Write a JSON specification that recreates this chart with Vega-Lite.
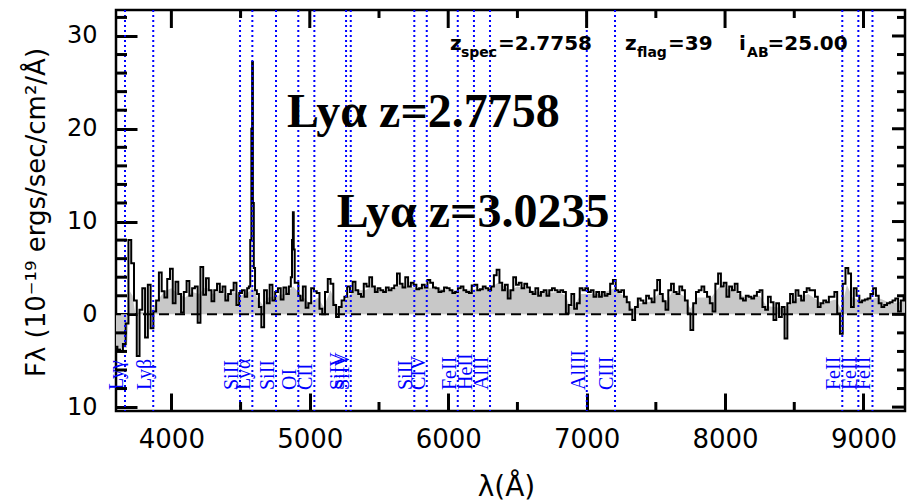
{
  "$schema": "https://vega.github.io/schema/vega-lite/v6.json",
  "width": 789,
  "height": 401,
  "autosize": {"type": "none"},
  "padding": {"left": 116, "top": 10, "right": 6, "bottom": 90},
  "background": "white",
  "config": {
    "view": {"stroke": "black", "strokeWidth": 2.5},
    "axis": {"grid": false, "domain": false, "ticks": true, "tickColor": "black", "tickWidth": 3, "labelColor": "black", "titleColor": "black"}
  },
  "datasets": {
    "spectrum": [
      {"lam":3600,"flux":-3.5},{"lam":3620,"flux":-3.8},{"lam":3640,"flux":-4.0},{"lam":3660,"flux":-3.2},{"lam":3680,"flux":-1.0},
      {"lam":3700,"flux":8.0},{"lam":3720,"flux":5.5},{"lam":3740,"flux":1.5},{"lam":3760,"flux":-4.5},{"lam":3780,"flux":0.5},
      {"lam":3800,"flux":2.8},{"lam":3820,"flux":-2.5},{"lam":3840,"flux":3.2},{"lam":3860,"flux":-1.5},{"lam":3880,"flux":0.3},
      {"lam":3900,"flux":1.5},{"lam":3920,"flux":4.5},{"lam":3940,"flux":2.5},{"lam":3960,"flux":1.8},{"lam":3980,"flux":3.8},
      {"lam":4000,"flux":4.9},{"lam":4020,"flux":1.2},{"lam":4040,"flux":3.5},{"lam":4060,"flux":2.2},{"lam":4080,"flux":0.2},
      {"lam":4100,"flux":2.4},{"lam":4120,"flux":3.6},{"lam":4140,"flux":2.0},{"lam":4160,"flux":2.8},{"lam":4180,"flux":3.0},
      {"lam":4200,"flux":-0.9},{"lam":4220,"flux":5.1},{"lam":4240,"flux":2.1},{"lam":4260,"flux":3.9},{"lam":4280,"flux":2.6},
      {"lam":4300,"flux":1.4},{"lam":4320,"flux":2.6},{"lam":4340,"flux":3.3},{"lam":4360,"flux":2.4},{"lam":4380,"flux":3.0},
      {"lam":4400,"flux":1.5},{"lam":4420,"flux":2.2},{"lam":4440,"flux":2.6},{"lam":4460,"flux":3.4},{"lam":4480,"flux":1.0},
      {"lam":4500,"flux":2.3},{"lam":4520,"flux":2.6},{"lam":4540,"flux":1.9},{"lam":4555,"flux":2.8},{"lam":4565,"flux":3.0},
      {"lam":4575,"flux":8.0},{"lam":4581,"flux":20.0},{"lam":4586,"flux":27.2},{"lam":4592,"flux":12.0},{"lam":4599,"flux":5.0},
      {"lam":4610,"flux":2.6},{"lam":4625,"flux":2.2},{"lam":4640,"flux":0.8},{"lam":4660,"flux":-1.4},{"lam":4680,"flux":2.6},
      {"lam":4700,"flux":1.2},{"lam":4720,"flux":3.2},{"lam":4740,"flux":1.5},{"lam":4760,"flux":2.4},{"lam":4780,"flux":2.8},
      {"lam":4800,"flux":1.6},{"lam":4820,"flux":2.9},{"lam":4840,"flux":2.2},{"lam":4858,"flux":3.0},{"lam":4868,"flux":4.0},
      {"lam":4875,"flux":8.0},{"lam":4881,"flux":11.0},{"lam":4887,"flux":7.0},{"lam":4895,"flux":3.4},
      {"lam":4910,"flux":3.4},{"lam":4925,"flux":2.0},{"lam":4940,"flux":1.5},{"lam":4960,"flux":3.0},{"lam":4980,"flux":0.7},
      {"lam":5000,"flux":1.2},{"lam":5020,"flux":2.8},{"lam":5040,"flux":2.5},{"lam":5060,"flux":2.3},{"lam":5080,"flux":0.6},
      {"lam":5100,"flux":0.0},{"lam":5120,"flux":2.4},{"lam":5140,"flux":3.8},{"lam":5160,"flux":3.3},{"lam":5180,"flux":1.0},
      {"lam":5200,"flux":-0.3},{"lam":5220,"flux":0.8},{"lam":5240,"flux":1.5},{"lam":5260,"flux":1.9},{"lam":5280,"flux":3.0},
      {"lam":5300,"flux":2.4},{"lam":5320,"flux":3.5},{"lam":5340,"flux":2.6},{"lam":5360,"flux":2.2},{"lam":5380,"flux":1.9},
      {"lam":5400,"flux":3.3},{"lam":5420,"flux":3.0},{"lam":5440,"flux":4.0},{"lam":5460,"flux":3.0},{"lam":5480,"flux":2.4},
      {"lam":5500,"flux":2.8},{"lam":5520,"flux":2.6},{"lam":5540,"flux":2.4},{"lam":5560,"flux":2.9},{"lam":5580,"flux":2.6},
      {"lam":5600,"flux":2.8},{"lam":5620,"flux":3.1},{"lam":5640,"flux":4.4},{"lam":5660,"flux":3.3},{"lam":5680,"flux":2.9},
      {"lam":5700,"flux":4.0},{"lam":5720,"flux":3.0},{"lam":5740,"flux":3.4},{"lam":5760,"flux":3.2},{"lam":5780,"flux":2.7},
      {"lam":5800,"flux":2.8},{"lam":5820,"flux":3.2},{"lam":5840,"flux":2.9},{"lam":5860,"flux":3.7},{"lam":5880,"flux":3.4},
      {"lam":5900,"flux":2.9},{"lam":5920,"flux":2.8},{"lam":5940,"flux":2.4},{"lam":5960,"flux":2.5},{"lam":5980,"flux":2.9},
      {"lam":6000,"flux":2.8},{"lam":6020,"flux":2.6},{"lam":6040,"flux":2.3},{"lam":6060,"flux":2.4},{"lam":6080,"flux":2.8},
      {"lam":6100,"flux":3.0},{"lam":6120,"flux":2.6},{"lam":6140,"flux":2.4},{"lam":6160,"flux":2.3},{"lam":6180,"flux":3.1},
      {"lam":6200,"flux":3.2},{"lam":6220,"flux":2.6},{"lam":6240,"flux":2.7},{"lam":6260,"flux":3.0},{"lam":6280,"flux":2.8},
      {"lam":6300,"flux":2.6},{"lam":6320,"flux":3.0},{"lam":6340,"flux":4.2},{"lam":6360,"flux":4.8},{"lam":6380,"flux":3.4},
      {"lam":6400,"flux":2.6},{"lam":6420,"flux":3.2},{"lam":6440,"flux":1.7},{"lam":6460,"flux":2.6},{"lam":6480,"flux":4.0},
      {"lam":6500,"flux":3.2},{"lam":6520,"flux":3.4},{"lam":6540,"flux":2.8},{"lam":6560,"flux":3.3},{"lam":6580,"flux":2.9},
      {"lam":6600,"flux":2.4},{"lam":6620,"flux":2.2},{"lam":6640,"flux":2.8},{"lam":6660,"flux":2.0},{"lam":6680,"flux":2.4},
      {"lam":6700,"flux":2.6},{"lam":6720,"flux":2.0},{"lam":6740,"flux":2.6},{"lam":6760,"flux":2.8},{"lam":6780,"flux":2.6},
      {"lam":6800,"flux":2.4},{"lam":6820,"flux":2.6},{"lam":6840,"flux":2.4},{"lam":6860,"flux":0.1},{"lam":6880,"flux":1.0},
      {"lam":6900,"flux":2.2},{"lam":6920,"flux":0.6},{"lam":6940,"flux":1.2},{"lam":6960,"flux":2.8},{"lam":6980,"flux":2.6},
      {"lam":7000,"flux":2.8},{"lam":7020,"flux":2.4},{"lam":7040,"flux":2.6},{"lam":7060,"flux":1.9},{"lam":7080,"flux":2.4},
      {"lam":7100,"flux":1.9},{"lam":7120,"flux":2.4},{"lam":7140,"flux":2.0},{"lam":7160,"flux":2.2},{"lam":7180,"flux":3.3},
      {"lam":7200,"flux":3.7},{"lam":7220,"flux":2.6},{"lam":7240,"flux":2.4},{"lam":7260,"flux":2.6},{"lam":7280,"flux":1.9},
      {"lam":7300,"flux":1.3},{"lam":7320,"flux":0.5},{"lam":7340,"flux":-0.6},{"lam":7360,"flux":0.8},{"lam":7380,"flux":1.7},
      {"lam":7400,"flux":1.5},{"lam":7420,"flux":1.2},{"lam":7440,"flux":2.0},{"lam":7460,"flux":1.7},{"lam":7480,"flux":1.3},
      {"lam":7500,"flux":2.6},{"lam":7520,"flux":3.7},{"lam":7540,"flux":2.2},{"lam":7560,"flux":1.4},{"lam":7580,"flux":0.5},
      {"lam":7600,"flux":2.6},{"lam":7620,"flux":3.3},{"lam":7640,"flux":2.4},{"lam":7660,"flux":2.2},{"lam":7680,"flux":3.0},
      {"lam":7700,"flux":2.6},{"lam":7720,"flux":1.5},{"lam":7740,"flux":0.1},{"lam":7760,"flux":-1.7},{"lam":7780,"flux":1.2},
      {"lam":7800,"flux":2.4},{"lam":7820,"flux":2.6},{"lam":7840,"flux":3.0},{"lam":7860,"flux":2.4},{"lam":7880,"flux":1.9},
      {"lam":7900,"flux":1.2},{"lam":7920,"flux":0.3},{"lam":7940,"flux":3.3},{"lam":7960,"flux":4.4},{"lam":7980,"flux":3.0},
      {"lam":8000,"flux":3.4},{"lam":8020,"flux":1.9},{"lam":8040,"flux":3.0},{"lam":8060,"flux":2.6},{"lam":8080,"flux":3.3},
      {"lam":8100,"flux":2.4},{"lam":8120,"flux":1.7},{"lam":8140,"flux":1.5},{"lam":8160,"flux":2.0},{"lam":8180,"flux":1.9},
      {"lam":8200,"flux":1.7},{"lam":8220,"flux":2.0},{"lam":8240,"flux":2.4},{"lam":8260,"flux":2.6},{"lam":8280,"flux":0.8},
      {"lam":8300,"flux":0.5},{"lam":8320,"flux":1.9},{"lam":8340,"flux":1.3},{"lam":8360,"flux":-0.6},{"lam":8380,"flux":1.2},
      {"lam":8400,"flux":-0.3},{"lam":8420,"flux":0.8},{"lam":8440,"flux":-2.6},{"lam":8460,"flux":1.2},{"lam":8480,"flux":2.2},
      {"lam":8500,"flux":1.3},{"lam":8520,"flux":2.6},{"lam":8540,"flux":2.0},{"lam":8560,"flux":1.5},{"lam":8580,"flux":2.4},
      {"lam":8600,"flux":2.8},{"lam":8620,"flux":2.6},{"lam":8640,"flux":2.6},{"lam":8660,"flux":1.9},{"lam":8680,"flux":0.8},
      {"lam":8700,"flux":1.2},{"lam":8720,"flux":1.5},{"lam":8740,"flux":1.3},{"lam":8760,"flux":1.9},{"lam":8780,"flux":1.9},
      {"lam":8800,"flux":2.4},{"lam":8820,"flux":0.1},{"lam":8840,"flux":-2.1},{"lam":8860,"flux":3.3},{"lam":8880,"flux":5.0},
      {"lam":8900,"flux":4.4},{"lam":8920,"flux":0.8},{"lam":8940,"flux":2.8},{"lam":8960,"flux":2.0},{"lam":8980,"flux":1.3},
      {"lam":9000,"flux":1.5},{"lam":9020,"flux":1.6},{"lam":9040,"flux":1.7},{"lam":9060,"flux":2.2},{"lam":9080,"flux":2.8},
      {"lam":9100,"flux":2.0},{"lam":9120,"flux":1.2},{"lam":9140,"flux":0.8},{"lam":9160,"flux":1.0},{"lam":9180,"flux":1.2},
      {"lam":9200,"flux":1.3},{"lam":9220,"flux":1.5},{"lam":9240,"flux":1.7},{"lam":9260,"flux":0.3},{"lam":9280,"flux":1.5},
      {"lam":9300,"flux":2.0}
    ],
    "smoothed": [
      {"lam":3600,"s":-3.6},{"lam":3680,"s":-3.6},{"lam":3700,"s":2.5},{"lam":3720,"s":2.0},{"lam":3740,"s":0.0},
      {"lam":3780,"s":0.3},{"lam":3820,"s":0.2},{"lam":3860,"s":0.5},{"lam":3900,"s":1.5},{"lam":3950,"s":2.5},
      {"lam":4000,"s":2.8},{"lam":4050,"s":2.2},{"lam":4100,"s":1.8},{"lam":4150,"s":2.4},{"lam":4200,"s":2.2},
      {"lam":4250,"s":3.0},{"lam":4300,"s":2.2},{"lam":4350,"s":2.6},{"lam":4400,"s":2.0},{"lam":4450,"s":2.4},
      {"lam":4500,"s":2.0},{"lam":4560,"s":2.4},{"lam":4586,"s":3.0},{"lam":4620,"s":1.8},{"lam":4660,"s":1.0},
      {"lam":4700,"s":1.8},{"lam":4760,"s":2.0},{"lam":4820,"s":2.2},{"lam":4881,"s":3.0},{"lam":4940,"s":2.0},
      {"lam":5000,"s":1.2},{"lam":5060,"s":1.8},{"lam":5100,"s":0.8},{"lam":5150,"s":2.6},{"lam":5200,"s":0.6},
      {"lam":5260,"s":1.6},{"lam":5320,"s":2.6},{"lam":5400,"s":2.6},{"lam":5450,"s":3.0},{"lam":5500,"s":2.6},
      {"lam":5600,"s":2.6},{"lam":5650,"s":3.2},{"lam":5700,"s":3.0},{"lam":5800,"s":2.8},{"lam":5900,"s":2.9},
      {"lam":6000,"s":2.6},{"lam":6100,"s":2.6},{"lam":6200,"s":2.7},{"lam":6300,"s":2.8},{"lam":6360,"s":3.4},
      {"lam":6450,"s":2.6},{"lam":6500,"s":3.0},{"lam":6600,"s":2.6},{"lam":6700,"s":2.3},{"lam":6800,"s":2.4},
      {"lam":6850,"s":2.0},{"lam":6880,"s":0.8},{"lam":6920,"s":1.2},{"lam":6960,"s":2.2},{"lam":7100,"s":2.2},
      {"lam":7200,"s":2.8},{"lam":7280,"s":1.8},{"lam":7330,"s":0.6},{"lam":7380,"s":1.2},{"lam":7480,"s":1.4},
      {"lam":7530,"s":2.6},{"lam":7580,"s":1.2},{"lam":7620,"s":2.6},{"lam":7700,"s":2.0},{"lam":7750,"s":0.6},
      {"lam":7800,"s":1.8},{"lam":7900,"s":1.8},{"lam":7960,"s":3.0},{"lam":8050,"s":2.6},{"lam":8150,"s":1.8},
      {"lam":8250,"s":2.0},{"lam":8300,"s":0.9},{"lam":8360,"s":0.8},{"lam":8440,"s":0.6},{"lam":8500,"s":1.6},
      {"lam":8600,"s":2.2},{"lam":8700,"s":1.2},{"lam":8800,"s":1.6},{"lam":8840,"s":0.5},{"lam":8880,"s":3.2},
      {"lam":8920,"s":1.8},{"lam":9000,"s":1.4},{"lam":9100,"s":1.8},{"lam":9200,"s":1.2},{"lam":9300,"s":1.4}
    ],
    "lines": [
      {"lam":3665,"ion":"Lyγ"},{"lam":3869,"ion":"Lyβ"},{"lam":4496,"ion":"SiII"},{"lam":4585,"ion":"Lyα"},
      {"lam":4756,"ion":"SiII"},{"lam":4917,"ion":"OI"},{"lam":5033,"ion":"CII"},{"lam":5262,"ion":"SiIV"},
      {"lam":5296,"ion":"SiIV"},{"lam":5755,"ion":"SiII"},{"lam":5845,"ion":"CIV"},{"lam":6069,"ion":"FeII"},
      {"lam":6186,"ion":"HeII"},{"lam":6302,"ion":"AlII"},{"lam":7001,"ion":"AlIII"},{"lam":7205,"ion":"CIII"},
      {"lam":8847,"ion":"FeII"},{"lam":8963,"ion":"FeII"},{"lam":9065,"ion":"FeII"}
    ],
    "zero": [{"level": 0}],
    "xticks": [
      {"lam":4000,"kind":"major"},{"lam":5000,"kind":"major"},{"lam":6000,"kind":"major"},{"lam":7000,"kind":"major"},{"lam":8000,"kind":"major"},{"lam":9000,"kind":"major"},
      {"lam":4500,"kind":"minor"},{"lam":5500,"kind":"minor"},{"lam":6500,"kind":"minor"},{"lam":7500,"kind":"minor"},{"lam":8500,"kind":"minor"}
    ],
    "yticks": [
      {"flux":-10,"kind":"major"},{"flux":0,"kind":"major"},{"flux":10,"kind":"major"},{"flux":20,"kind":"major"},{"flux":30,"kind":"major"},
      {"flux":-8,"kind":"minor"},{"flux":-6,"kind":"minor"},{"flux":-4,"kind":"minor"},{"flux":-2,"kind":"minor"},{"flux":2,"kind":"minor"},{"flux":4,"kind":"minor"},
      {"flux":6,"kind":"minor"},{"flux":8,"kind":"minor"},{"flux":12,"kind":"minor"},{"flux":14,"kind":"minor"},{"flux":16,"kind":"minor"},{"flux":18,"kind":"minor"},
      {"flux":22,"kind":"minor"},{"flux":24,"kind":"minor"},{"flux":26,"kind":"minor"},{"flux":28,"kind":"minor"},{"flux":32,"kind":"minor"}
    ]
  },
  "layer": [
    {
      "data": {"name": "smoothed"},
      "mark": {"type": "area", "color": "#c8c8c8", "interpolate": "linear"},
      "encoding": {
        "x": {"field": "lam", "type": "quantitative",
          "scale": {"domain": [3600, 9300], "nice": false, "zero": false},
          "axis": {"orient": "bottom", "values": [4000, 5000, 6000, 7000, 8000, 9000], "format": "d",
            "offset": -18, "tickSize": 18, "labelPadding": 36, "labelBaseline": "alphabetic",
            "labelFont": "DejaVu Sans", "labelFontSize": 26,
            "title": "λ(Å)", "titleFont": "DejaVu Sans", "titleFontSize": 28, "titleFontWeight": "normal",
            "titleX": 390, "titleY": 102, "titleBaseline": "alphabetic"}},
        "y": {"field": "s", "type": "quantitative",
          "scale": {"domain": [-10.42, 32.8], "nice": false, "zero": false},
          "axis": {"orient": "left", "values": [-10, 0, 10, 20, 30],
            "labelExpr": "format(abs(datum.value), 'd')",
            "offset": -21, "tickSize": 21, "labelPadding": 19, "labelBaseline": "middle",
            "labelFont": "DejaVu Sans", "labelFontSize": 24,
            "title": "Fλ (10⁻¹⁹ ergs/sec/cm²/Å)", "titleFont": "DejaVu Sans", "titleFontSize": 26, "titleFontWeight": "normal",
            "titleAngle": 270, "titleX": -93, "titleY": 202, "titleAlign": "center", "titleBaseline": "alphabetic"}},
        "y2": {"datum": 0}
      }
    },
    {
      "data": {"name": "spectrum"},
      "mark": {"type": "line", "color": "black", "strokeWidth": 2, "interpolate": "step"},
      "encoding": {
        "x": {"field": "lam", "type": "quantitative"},
        "y": {"field": "flux", "type": "quantitative"}
      }
    },
    {
      "data": {"name": "zero"},
      "mark": {"type": "rule", "color": "black", "strokeWidth": 2, "strokeDash": [10, 6]},
      "encoding": {"y": {"field": "level", "type": "quantitative"}}
    },
    {
      "data": {"name": "lines"},
      "mark": {"type": "rule", "color": "#0000ff", "strokeWidth": 2, "strokeDash": [2, 3]},
      "encoding": {"x": {"field": "lam", "type": "quantitative"}}
    },
    {
      "data": {"name": "lines"},
      "mark": {"type": "text", "color": "#0000ff", "font": "Liberation Serif", "fontSize": 20, "angle": 270, "align": "left", "baseline": "alphabetic", "dy": -2},
      "encoding": {
        "x": {"field": "lam", "type": "quantitative"},
        "y": {"datum": -8.16, "type": "quantitative"},
        "text": {"field": "ion"}
      }
    },
    {
      "data": {"name": "xticks"},
      "transform": [{"filter": "datum.kind === 'major'"}],
      "mark": {"type": "rule", "color": "black", "strokeWidth": 3},
      "encoding": {"x": {"field": "lam", "type": "quantitative"}, "y": {"datum": 32.8, "type": "quantitative"}, "y2": {"datum": 30.86}}
    },
    {
      "data": {"name": "xticks"},
      "transform": [{"filter": "datum.kind === 'minor'"}],
      "mark": {"type": "rule", "color": "black", "strokeWidth": 3},
      "encoding": {"x": {"field": "lam", "type": "quantitative"}, "y": {"datum": -10.42, "type": "quantitative"}, "y2": {"datum": -9.45}}
    },
    {
      "data": {"name": "xticks"},
      "transform": [{"filter": "datum.kind === 'minor'"}],
      "mark": {"type": "rule", "color": "black", "strokeWidth": 3},
      "encoding": {"x": {"field": "lam", "type": "quantitative"}, "y": {"datum": 32.8, "type": "quantitative"}, "y2": {"datum": 31.94}}
    },
    {
      "data": {"name": "yticks"},
      "transform": [{"filter": "datum.kind === 'minor'"}],
      "mark": {"type": "rule", "color": "black", "strokeWidth": 3},
      "encoding": {"y": {"field": "flux", "type": "quantitative"}, "x": {"datum": 3600, "type": "quantitative"}, "x2": {"datum": 3679.5}}
    },
    {
      "data": {"name": "yticks"},
      "transform": [{"filter": "datum.kind === 'major'"}],
      "mark": {"type": "rule", "color": "black", "strokeWidth": 3},
      "encoding": {"y": {"field": "flux", "type": "quantitative"}, "x": {"datum": 9300, "type": "quantitative"}, "x2": {"datum": 9206}}
    },
    {
      "data": {"name": "yticks"},
      "transform": [{"filter": "datum.kind === 'minor'"}],
      "mark": {"type": "rule", "color": "black", "strokeWidth": 3},
      "encoding": {"y": {"field": "flux", "type": "quantitative"}, "x": {"datum": 9300, "type": "quantitative"}, "x2": {"datum": 9242}}
    },
    {
      "data": {"values": [{"note": "Lyα z=2.7758"}]},
      "mark": {"type": "text", "font": "Liberation Serif", "fontWeight": "bold", "fontSize": 48, "align": "left", "baseline": "alphabetic", "color": "black"},
      "encoding": {
        "x": {"datum": 4835, "type": "quantitative"},
        "y": {"datum": 20.19, "type": "quantitative"},
        "text": {"field": "note"}
      }
    },
    {
      "data": {"values": [{"note": "Lyα z=3.0235"}]},
      "mark": {"type": "text", "font": "Liberation Serif", "fontWeight": "bold", "fontSize": 48, "align": "left", "baseline": "alphabetic", "color": "black"},
      "encoding": {
        "x": {"datum": 5194, "type": "quantitative"},
        "y": {"datum": 9.41, "type": "quantitative"},
        "text": {"field": "note"}
      }
    },
    {
      "data": {"values": [{"t": "z"}]},
      "mark": {"type": "text", "font": "DejaVu Sans", "fontWeight": "bold", "fontSize": 20, "align": "left", "baseline": "alphabetic", "color": "black"},
      "encoding": {"x": {"datum": 6013, "type": "quantitative"}, "y": {"datum": 28.5, "type": "quantitative"}, "text": {"field": "t"}}
    },
    {
      "data": {"values": [{"t": "spec"}]},
      "mark": {"type": "text", "font": "DejaVu Sans", "fontWeight": "bold", "fontSize": 14, "align": "left", "baseline": "alphabetic", "color": "black"},
      "encoding": {"x": {"datum": 6092, "type": "quantitative"}, "y": {"datum": 27.77, "type": "quantitative"}, "text": {"field": "t"}}
    },
    {
      "data": {"values": [{"t": "=2.7758"}]},
      "mark": {"type": "text", "font": "DejaVu Sans", "fontWeight": "bold", "fontSize": 20, "align": "left", "baseline": "alphabetic", "color": "black"},
      "encoding": {"x": {"datum": 6360, "type": "quantitative"}, "y": {"datum": 28.5, "type": "quantitative"}, "text": {"field": "t"}}
    },
    {
      "data": {"values": [{"t": "z"}]},
      "mark": {"type": "text", "font": "DejaVu Sans", "fontWeight": "bold", "fontSize": 20, "align": "left", "baseline": "alphabetic", "color": "black"},
      "encoding": {"x": {"datum": 7277, "type": "quantitative"}, "y": {"datum": 28.5, "type": "quantitative"}, "text": {"field": "t"}}
    },
    {
      "data": {"values": [{"t": "flag"}]},
      "mark": {"type": "text", "font": "DejaVu Sans", "fontWeight": "bold", "fontSize": 14, "align": "left", "baseline": "alphabetic", "color": "black"},
      "encoding": {"x": {"datum": 7364, "type": "quantitative"}, "y": {"datum": 27.77, "type": "quantitative"}, "text": {"field": "t"}}
    },
    {
      "data": {"values": [{"t": "=39"}]},
      "mark": {"type": "text", "font": "DejaVu Sans", "fontWeight": "bold", "fontSize": 20, "align": "left", "baseline": "alphabetic", "color": "black"},
      "encoding": {"x": {"datum": 7588, "type": "quantitative"}, "y": {"datum": 28.5, "type": "quantitative"}, "text": {"field": "t"}}
    },
    {
      "data": {"values": [{"t": "i"}]},
      "mark": {"type": "text", "font": "DejaVu Sans", "fontWeight": "bold", "fontSize": 20, "align": "left", "baseline": "alphabetic", "color": "black"},
      "encoding": {"x": {"datum": 8101, "type": "quantitative"}, "y": {"datum": 28.5, "type": "quantitative"}, "text": {"field": "t"}}
    },
    {
      "data": {"values": [{"t": "AB"}]},
      "mark": {"type": "text", "font": "DejaVu Sans", "fontWeight": "bold", "fontSize": 14, "align": "left", "baseline": "alphabetic", "color": "black"},
      "encoding": {"x": {"datum": 8159, "type": "quantitative"}, "y": {"datum": 27.77, "type": "quantitative"}, "text": {"field": "t"}}
    },
    {
      "data": {"values": [{"t": "=25.00"}]},
      "mark": {"type": "text", "font": "DejaVu Sans", "fontWeight": "bold", "fontSize": 20, "align": "left", "baseline": "alphabetic", "color": "black"},
      "encoding": {"x": {"datum": 8307, "type": "quantitative"}, "y": {"datum": 28.5, "type": "quantitative"}, "text": {"field": "t"}}
    }
  ]
}
